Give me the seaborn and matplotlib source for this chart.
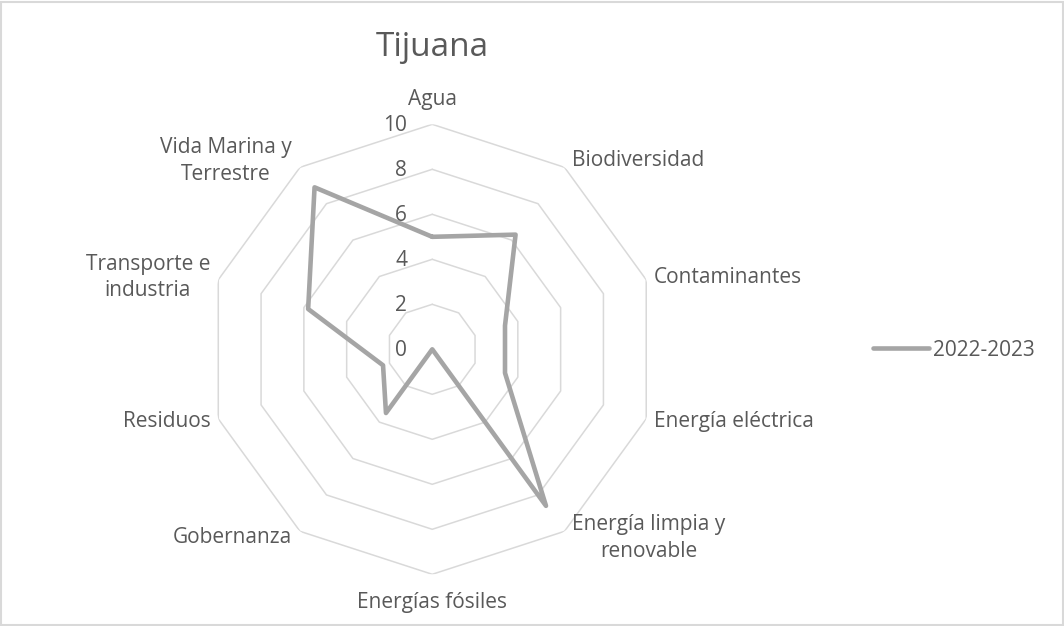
import numpy as np
import pandas as pd
import seaborn as sns
import matplotlib.pyplot as plt
from matplotlib.patches import Rectangle
from matplotlib.lines import Line2D
from matplotlib.transforms import offset_copy

categorias = ['Agua', 'Biodiversidad', 'Contaminantes', 'Energía eléctrica',
              'Energía limpia y\nrenovable', 'Energías fósiles', 'Gobernanza',
              'Residuos', 'Transporte e\nindustria', 'Vida Marina y\nTerrestre']
valores = [5.0, 6.3, 3.4, 3.4, 8.6, 0.0, 3.5, 2.3, 5.8, 8.9]
serie = '2022-2023'
ticks = [0, 2, 4, 6, 8, 10]

gris_txt = '#595959'
gris_grid = '#d9d9d9'
gris_serie = '#a5a5a5'

sns.set_style('white')
plt.rcParams['font.family'] = ['Open Sans', 'DejaVu Sans']

n = len(categorias)
ang = np.linspace(0, 2 * np.pi, n, endpoint=False)
ang_c = np.append(ang, 2 * np.pi)

df = pd.DataFrame({'theta': ang_c, 'valor': valores + valores[:1]})

fig = plt.figure(figsize=(10.64, 6.26), dpi=100)
ax = fig.add_axes([0.1948, 0.0826, 0.4229, 0.7188], projection='polar')
ax.set_theta_zero_location('N')
ax.set_theta_direction(-1)
ax.grid(False)
ax.spines['polar'].set_visible(False)
ax.patch.set_alpha(0)

# rejilla decagonal
for r in ticks[1:]:
    ax.plot(ang_c, [r] * (n + 1), color=gris_grid, lw=1.1, zorder=1)

sns.lineplot(data=df, x='theta', y='valor', sort=False, estimator=None, ax=ax,
             color=gris_serie, lw=3.3, zorder=3, legend=False)
ax.set_xlabel('')
ax.set_ylabel('')
ax.set_xticks([])
ax.set_yticks([])
ax.set_ylim(0, 10)

fs = 15
# etiquetas del eje radial
tr = offset_copy(ax.transData, fig=fig, x=-25, y=-1, units='dots')
for r in ticks:
    ax.text(0, r, str(r), transform=tr, ha='right', va='center',
            fontsize=fs, color=gris_txt)

# etiquetas de categorias
for a, lab in zip(ang, categorias):
    s, c = np.sin(a), np.cos(a)
    if abs(s) < 0.1:
        ha = 'center'
        va = 'bottom' if c > 0 else 'top'
        dx, dy = 0, (14 if c > 0 else -18)
    else:
        ha = 'left' if s > 0 else 'right'
        va = 'center'
        dx, dy = 8 * np.sign(s), 8 * c
    t = offset_copy(ax.transData, fig=fig, x=dx, y=dy, units='dots')
    ax.text(a, 10, lab, transform=t, ha=ha, va=va, fontsize=fs,
            color=gris_txt, multialignment='center', linespacing=1.35)

fig.text(432 / 1064, 1 - 48 / 626, 'Tijuana', ha='center', va='center',
         fontsize=24, color=gris_txt)

h = [Line2D([], [], color=gris_serie, lw=3.3, solid_capstyle='round')]
fig.legend(h, [serie], loc='center left', bbox_to_anchor=(873 / 1064, 1 - 350 / 626),
           frameon=False, fontsize=fs, labelcolor=gris_txt, handlelength=2.7,
           handletextpad=0.2, borderpad=0, borderaxespad=0)

fig.patches.append(Rectangle((1 / 1064, 1 / 626), 1062 / 1064, 623 / 626,
                             transform=fig.transFigure, fill=False,
                             ec=gris_grid, lw=1.5))

fig.savefig('out.png', dpi=100)
